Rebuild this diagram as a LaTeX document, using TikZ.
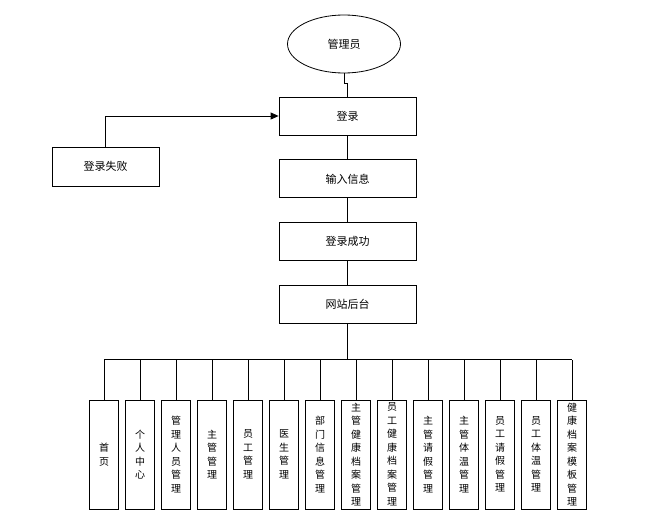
\documentclass[tikz,border=0pt]{standalone}
\usepackage{fontspec}
\setmainfont{Noto Sans CJK SC}
\usetikzlibrary{positioning,shapes.geometric,arrows.meta}

\begin{document}
\begin{tikzpicture}[x=1pt,y=1pt,node distance=24pt,
  every node/.style={font=\fontsize{11}{13}\selectfont},
  stagebox/.style={draw,line width=0.8pt,minimum width=137pt,minimum height=38pt},
  modulebox/.style={draw,line width=0.8pt,minimum width=29pt,minimum height=109pt,
    align=center,inner sep=1pt,font=\fontsize{10}{13.5}\selectfont},
  link/.style={line width=0.8pt}]
  \useasboundingbox (0,0) rectangle (666,-519);

  \node[draw,ellipse,line width=0.8pt,minimum width=113pt,minimum height=58pt] (admin) at (344,-44) {管理员};

  \node[stagebox] (login) at (347.5,-116) {登录};
  \node[stagebox] (input) [below=of login] {输入信息};
  \node[stagebox] (success) [below=of input] {登录成功};
  \node[stagebox] (backend) [below=of success] {网站后台};

  \node[stagebox,minimum width=107pt,minimum height=39pt] (fail) at (105.5,-166.5) {登录失败};

  \draw[link] (admin.south) -- ++(0,-10) -| (login.north);
  \draw[link] (login) -- (input);
  \draw[link] (input) -- (success);
  \draw[link] (success) -- (backend);
  \draw[link,-{Triangle[length=8pt,width=7pt]}] (fail.north) |- (login.west);

  % modules of the backend
  \foreach \name [count=\i] in {{首\\页},{个\\人\\中\\心},{管\\理\\人\\员\\管\\理},{主\\管\\管\\理},
      {员\\工\\管\\理},{医\\生\\管\\理},{部\\门\\信\\息\\管\\理},{主\\管\\健\\康\\档\\案\\管\\理},
      {员\\工\\健\\康\\档\\案\\管\\理},{主\\管\\请\\假\\管\\理},{主\\管\\体\\温\\管\\理},
      {员\\工\\请\\假\\管\\理},{员\\工\\体\\温\\管\\理},{健\\康\\档\\案\\模\\板\\管\\理}}
    \node[modulebox] (m\i) at (68+36*\i,-454.5) {\name};

  \draw[line width=1.2pt] (backend.south) -- ++(0,-36) coordinate (bus);
  \draw[line width=1.2pt] (m1.north |- bus) -- (m14.north |- bus);
  \foreach \i in {1,...,14}
    \draw[link] (m\i.north) -- (m\i.north |- bus);
\end{tikzpicture}
\end{document}
